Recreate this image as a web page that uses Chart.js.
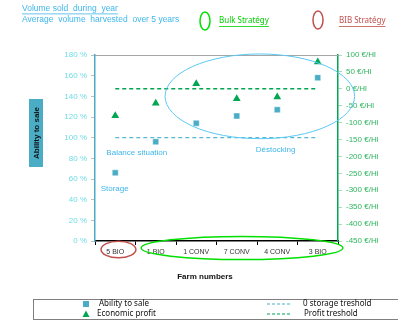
<!DOCTYPE html>
<html>
<head>
<meta charset="utf-8">
<script src="https://cdn.jsdelivr.net/npm/chart.js@4.4.1/dist/chart.umd.min.js"></script>
<style>
  html, body { margin: 0; padding: 0; background: #fff; }
  #wrap { width: 398px; height: 322px; position: relative; }
</style>
</head>
<body>
<div id="wrap"><canvas id="farms" width="398" height="322"></canvas></div>
<script>
// farm categories
const farms = ['5 BIO', '1 BIO', '1 CONV', '7 CONV', '4 CONV', '3 BIO'];
// ability to sale (%)
const abilityToSale = [66, 96, 114, 121, 127, 158];
// economic profit (€/Hl)
const economicProfit = [-80, -43, 15, -29, -24, 79];
const storageTreshold = [100, 100, 100, 100, 100, 100];
const profitTreshold = [0, 0, 0, 0, 0, 0];

const BLUE = '#4bacc6';
const GREEN = '#00a651';
const TEXTBLUE = '#3fb6ea';

// extra drawings: title box, ellipses, notes, header, legend box
const decor = {
    id: 'decor',
    afterDraw(chart) {
        const ctx = chart.ctx;
        const xs = chart.scales.x, ys = chart.scales.y;
        const area = chart.chartArea;
        const cw = xs.getPixelForValue(1) - xs.getPixelForValue(0);
        const px = i => xs.getPixelForValue(0) + i * cw;
        ctx.save();

        // gray top border
        ctx.strokeStyle = '#a6a6a6';
        ctx.lineWidth = 1;
        ctx.beginPath();
        ctx.moveTo(area.left, area.top + 0.5);
        ctx.lineTo(area.right, area.top + 0.5);
        ctx.stroke();

        // blue ellipse around destocking farms
        ctx.strokeStyle = '#5bc8f5';
        ctx.lineWidth = 1;
        ctx.beginPath();
        ctx.ellipse(px(3.57), ys.getPixelForValue(140), 2.34 * cw,
            ys.getPixelForValue(99) - ys.getPixelForValue(140), 0, 0, Math.PI * 2);
        ctx.stroke();

        // strategy ellipses under the labels
        ctx.lineWidth = 1.5;
        ctx.strokeStyle = '#00e000';
        ctx.beginPath();
        ctx.ellipse(px(3.13), area.bottom + 7, 2.49 * cw, 11.5, 0, 0, Math.PI * 2);
        ctx.stroke();
        ctx.strokeStyle = '#c0504d';
        ctx.beginPath();
        ctx.ellipse(px(0.08), area.bottom + 8.5, 0.43 * cw, 8.3, 0, 0, Math.PI * 2);
        ctx.stroke();

        // notes inside the plot
        ctx.fillStyle = TEXTBLUE;
        ctx.font = '8px "Liberation Sans", Arial, sans-serif';
        ctx.textBaseline = 'middle';
        ctx.textAlign = 'left';
        ctx.fillText('Balance situation', px(-0.22), ys.getPixelForValue(85.4));
        ctx.fillText('Storage', px(-0.36), ys.getPixelForValue(50.5));
        ctx.fillText('Déstocking', px(3.47), ys.getPixelForValue(88));

        // y axis title box
        ctx.fillStyle = BLUE;
        ctx.fillRect(29, 99, 14, 68);
        ctx.translate(36, 133);
        ctx.rotate(-Math.PI / 2);
        ctx.fillStyle = '#111';
        ctx.font = 'bold 8px "Liberation Sans", Arial, sans-serif';
        ctx.textAlign = 'center';
        ctx.fillText('Ability to sale', 0, 0.5);
        ctx.setTransform(1, 0, 0, 1, 0, 0);

        // x axis title
        ctx.fillStyle = '#111';
        ctx.font = 'bold 8px "Liberation Sans", Arial, sans-serif';
        ctx.textAlign = 'center';
        ctx.fillText('Farm numbers', 205, 277);

        // header
        ctx.textAlign = 'left';
        ctx.font = '8.5px "Liberation Sans", Arial, sans-serif';
        ctx.fillStyle = TEXTBLUE;
        ctx.fillText('Volume sold  during  year', 22, 9);
        let w = ctx.measureText('Volume sold  during  year').width;
        ctx.fillRect(22, 13.5, w, 0.8);
        ctx.fillText('Average  volume  harvested  over 5 years', 22, 20);

        ctx.lineWidth = 1.5;
        ctx.strokeStyle = '#00e000';
        ctx.beginPath();
        ctx.ellipse(205, 21, 5, 9, 0, 0, Math.PI * 2);
        ctx.stroke();
        ctx.strokeStyle = '#c0504d';
        ctx.beginPath();
        ctx.ellipse(318, 20, 5, 9, 0, 0, Math.PI * 2);
        ctx.stroke();

        ctx.font = '8px "Noto Sans", "Liberation Sans", sans-serif';
        ctx.fillStyle = '#00d000';
        ctx.fillText('Bulk Stratégy', 219, 21);
        w = ctx.measureText('Bulk Stratégy').width;
        ctx.fillRect(219, 26, w, 0.8);
        ctx.fillStyle = '#c0504d';
        ctx.fillText('BIB Stratégy', 339, 21);
        w = ctx.measureText('BIB Stratégy').width;
        ctx.fillRect(339, 26, w, 0.8);

        // legend box
        ctx.strokeStyle = '#7f7f7f';
        ctx.lineWidth = 1;
        ctx.strokeRect(33.5, 299.5, 370, 20);
        ctx.fillStyle = BLUE;
        ctx.fillRect(83, 301, 6, 6);
        ctx.fillStyle = GREEN;
        ctx.beginPath();
        ctx.moveTo(86, 310.5);
        ctx.lineTo(89.5, 317);
        ctx.lineTo(82.5, 317);
        ctx.closePath();
        ctx.fill();
        ctx.fillStyle = '#111';
        ctx.font = '8px "Noto Sans", "Liberation Sans", sans-serif';
        ctx.fillText('Ability to sale', 99, 304);
        ctx.fillText('Economic profit', 97, 314);
        ctx.fillText('0 storage treshold', 303, 304);
        ctx.fillText('Profit treshold', 304, 314);
        ctx.lineWidth = 1.2;
        ctx.setLineDash([3, 2]);
        ctx.strokeStyle = BLUE;
        ctx.beginPath();
        ctx.moveTo(267, 304);
        ctx.lineTo(291, 304);
        ctx.stroke();
        ctx.strokeStyle = GREEN;
        ctx.beginPath();
        ctx.moveTo(267, 314);
        ctx.lineTo(291, 314);
        ctx.stroke();
        ctx.restore();
    }
};

new Chart(document.getElementById('farms'), {
    type: 'line',
    data: {
        labels: farms,
        datasets: [
            {
                label: 'Ability to sale',
                data: abilityToSale,
                yAxisID: 'y',
                showLine: false,
                pointStyle: 'rect',
                pointRadius: 4.3,
                backgroundColor: BLUE,
                borderColor: '#ffffff',
                pointBorderWidth: 0.5
            },
            {
                label: 'Economic profit',
                data: economicProfit,
                yAxisID: 'y1',
                showLine: false,
                pointStyle: 'triangle',
                pointRadius: 4.5,
                backgroundColor: GREEN,
                borderColor: GREEN,
                pointBorderWidth: 0
            },
            {
                label: '0 storage treshold',
                data: storageTreshold,
                yAxisID: 'y',
                borderColor: '#5bb8d4',
                borderWidth: 1.4,
                borderDash: [4, 3],
                pointRadius: 0
            },
            {
                label: 'Profit treshold',
                data: profitTreshold,
                yAxisID: 'y1',
                borderColor: GREEN,
                borderWidth: 1.5,
                borderDash: [4, 3],
                pointRadius: 0
            }
        ]
    },
    options: {
        responsive: false,
        animation: false,
        layout: { padding: { top: 55, left: 0, right: 0, bottom: 0 } },
        plugins: {
            legend: { display: false },
            tooltip: { enabled: false }
        },
        scales: {
            x: {
                offset: true,
                afterFit: s => { s.height = 81; },
                grid: { drawOnChartArea: false, drawTicks: true, tickLength: 4, color: '#000', offset: true },
                border: { color: '#000', width: 1.5 },
                ticks: { color: '#333', padding: 3, font: { size: 7, family: '"Liberation Sans", Arial' }, maxRotation: 0 }
            },
            y: {
                position: 'left',
                min: 0,
                max: 180,
                afterFit: s => { s.width = 95; },
                grid: { drawOnChartArea: false, tickLength: 4, color: '#bfbfbf' },
                border: { color: BLUE, width: 1.5 },
                ticks: {
                    stepSize: 20,
                    padding: 4,
                    color: '#6fdce6',
                    font: { size: 8, family: '"Liberation Sans", Arial' },
                    callback: v => v + ' %'
                }
            },
            y1: {
                position: 'right',
                min: -450,
                max: 100,
                afterFit: s => { s.width = 60; },
                grid: { drawOnChartArea: false, tickLength: 4, color: '#a8dcb8' },
                border: { color: GREEN, width: 1.5 },
                ticks: {
                    stepSize: 50,
                    padding: 4,
                    color: '#2fb560',
                    font: { size: 8, family: '"Liberation Sans", Arial' },
                    callback: v => v + ' €/Hl'
                }
            }
        }
    },
    plugins: [decor]
});
</script>
</body>
</html>
